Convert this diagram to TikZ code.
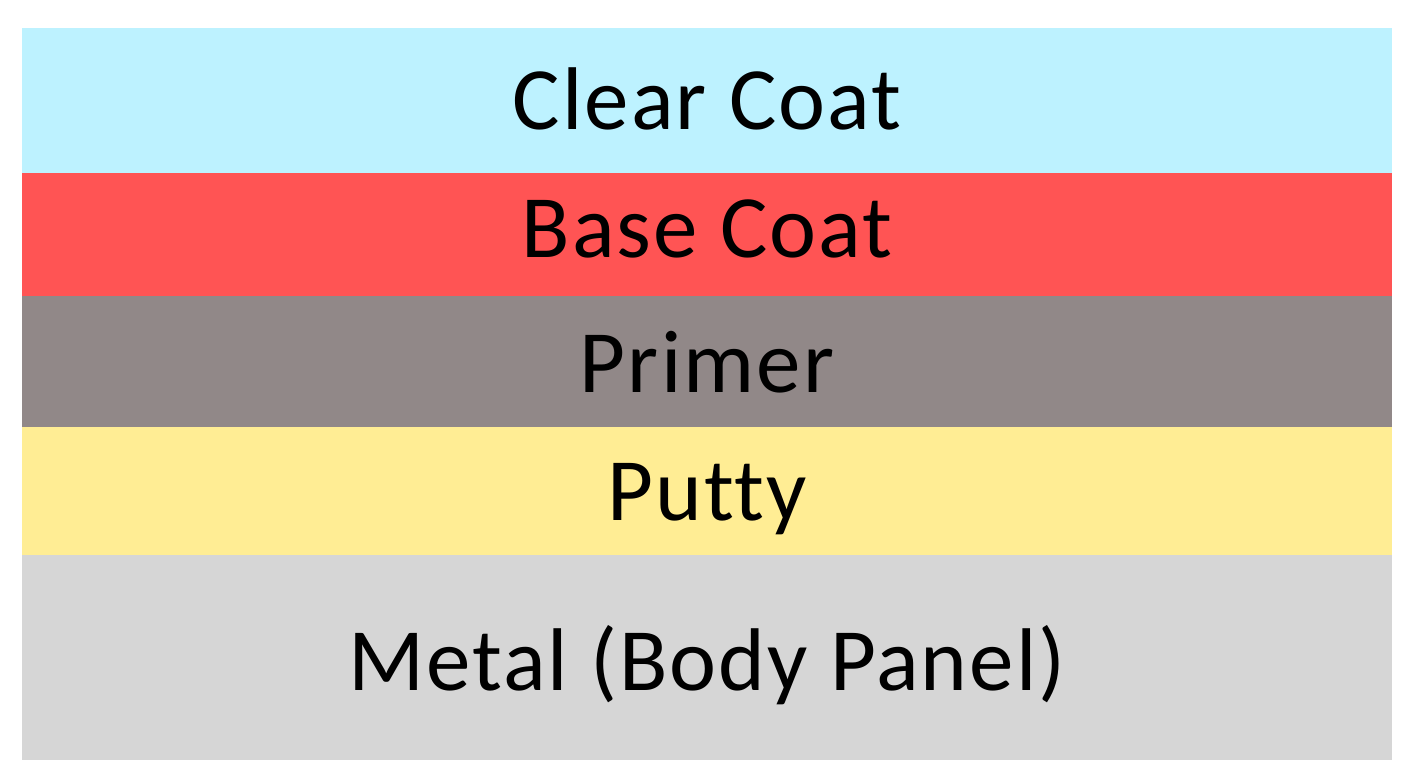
\documentclass[tikz,border=0pt]{standalone}
\usepackage{fontspec}
\setmainfont{Carlito}[Ligatures={NoCommon},LetterSpace=2.3]
\definecolor{clearc}{HTML}{BDF2FF}
\definecolor{basec}{HTML}{FF5454}
\definecolor{primerc}{HTML}{918888}
\definecolor{puttyc}{HTML}{FFED94}
\definecolor{metalc}{HTML}{D6D6D6}
\begin{document}
\begin{tikzpicture}[x=1pt,y=-1pt,
  lab/.style={anchor=base,inner sep=0pt,font=\fontsize{89}{100}\selectfont,text=black}]
\useasboundingbox (0,0) rectangle (1412,783);
\fill[white] (0,0) rectangle (1412,783);
\fill[clearc] (21.5,28.5) rectangle (1392,173.5);
\fill[basec] (21.5,173.5) rectangle (1392,296);
\fill[primerc] (21.5,296) rectangle (1392,426.5);
\fill[puttyc] (21.5,426.5) rectangle (1392,555);
\fill[metalc] (21.5,555) rectangle (1392,760);
\node[lab] (clear) at (707,130) {Clear Coat};
\node[lab] (base) at (707,258) {Base Coat};
\node[lab] (primer) at (707,392) {Primer};
\node[lab] (putty) at (707,520) {Putty};
\node[lab] (metal) at (707,690) {Metal (Body Panel)};
\end{tikzpicture}
\end{document}
